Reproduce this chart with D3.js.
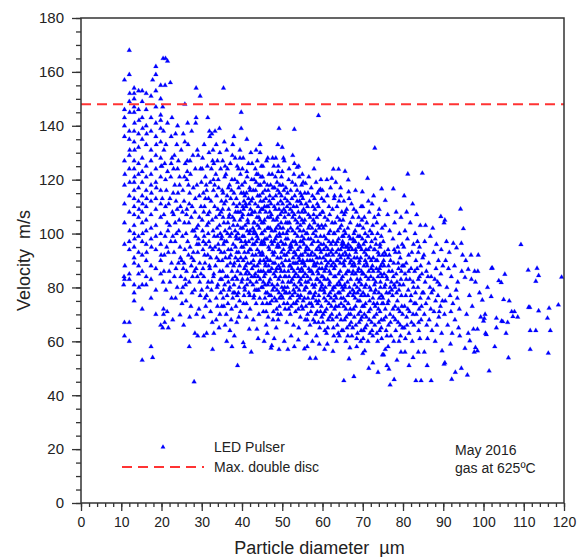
<!DOCTYPE html>
<html><head><meta charset="utf-8">
<script src="https://cdn.jsdelivr.net/npm/d3@7"></script>
<style>body{margin:0;background:#fff}svg{display:block}text{font-family:"Liberation Sans",Arial,sans-serif;fill:#222}</style>
</head><body>
<script>
// ---- Data (diameter µm, velocity m/s) ----
const pts10_15 = [[10.6,81],[10.7,84],[10.8,62],[10.8,67],[10.8,83],[10.8,96],[10.8,104],[10.8,111],[10.8,118],[10.8,127],[10.8,136],[10.8,140],[10.8,143],[10.8,146],[10.8,157],[10.9,88],[10.9,122],
[12.0,168],[12.0,159],[12.0,149],[12.0,138],[12.0,135],[12.0,129],[12.0,124],[12.0,114],[12.0,108],[12.0,97],[12.0,94],[12.0,85],[12.0,83],[12.0,67],[12.0,60],[12.1,101],[12.1,119],[12.1,131],[12.1,145],[12.1,152],
[13.2,154],[13.2,152],[13.2,150],[13.2,147],[13.2,145],[13.2,138],[13.2,134],[13.2,127],[13.2,124],[13.2,119],[13.2,116],[13.2,113],[13.2,110],[13.2,107],[13.2,103],[13.2,100],[13.2,95],[13.2,91],[13.2,89],[13.2,81],[13.2,78],[13.2,75],[13.3,141],[13.3,131],[13.3,121],[13.3,98],
[14.3,153],[14.3,146],[14.3,137],[14.3,132],[14.3,126],[14.3,122],[14.3,117],[14.3,112],[14.3,106],[14.3,99],[14.3,93],[14.3,88],[14.3,85],[14.4,142],[14.4,109],[14.4,80]];
const pts15_20 = [[15.2,153],[15.2,149],[15.2,143],[15.2,135],[15.2,128],[15.2,123],[15.2,119],[15.2,114],[15.2,108],[15.2,104],[15.2,97],[15.2,92],[15.2,86],[15.2,81],[15.2,72],[15.2,53],[15.3,139],[15.3,111],[15.3,100],
[16.2,152],[16.2,146],[16.2,140],[16.2,133],[16.2,125],[16.2,121],[16.2,116],[16.2,110],[16.2,105],[16.2,101],[16.2,96],[16.2,90],[16.2,84],[16.2,81],[16.3,137],[16.3,113],[16.3,93],
[17.4,151],[17.4,143],[17.4,138],[17.4,131],[17.4,127],[17.4,122],[17.4,118],[17.4,112],[17.4,107],[17.4,102],[17.4,98],[17.4,88],[17.4,83],[17.4,76],[17.4,58],[17.5,115],[17.5,95],[17.8,157],[17.8,54],
[18.6,162],[18.6,159],[18.6,153],[18.6,147],[18.6,141],[18.6,136],[18.6,129],[18.6,124],[18.6,119],[18.6,113],[18.6,109],[18.6,103],[18.6,99],[18.6,94],[18.6,87],[18.6,79],[18.6,70],[18.7,133],[18.7,117],
[19.8,155],[19.8,150],[19.8,144],[19.8,142],[19.8,139],[19.8,134],[19.8,128],[19.8,121],[19.8,116],[19.8,111],[19.8,106],[19.8,100],[19.8,96],[19.8,90],[19.8,85],[19.8,66],[19.9,125],[19.9,92]];
const pts20_25 = [[20.4,165],[21.0,165],[21.5,164],[20.9,155],[21.5,141],[20.3,147],[20.5,138],[20.6,131],[20.8,126],[21.0,120],[21.1,79],[20.5,72],[20.5,70],[20.3,65],[21.7,65],[20.8,67],[21.4,71],[22.2,156],[22.5,76],[23.5,76],[22.8,68],[22.4,136],[22.6,128],[23.0,124],[23.3,118],[22.1,113],[22.7,108],[23.4,104],[21.6,101],[22.3,97],[23.1,93],[24.0,140],[23.8,133],[24.2,127],[24.5,121],[24.1,115],[24.7,110],[24.4,105],[23.7,100],[24.6,95],[24.2,89],[24.8,84],[23.9,80],[24.6,69.8],[21.2,116],[21.8,111],[20.6,107],[22.0,103],[21.3,95],[20.7,92],[22.5,89],[21.9,86],[23.2,84],[20.4,82],[22.9,115],[23.6,112],[21.5,123],[22.3,121],[24.9,131],[20.9,99],[23.4,97],[24.3,101],[22.6,143],[21.1,133],[23.2,129],[20.2,113],[24.5,118],[23.0,107],[21.7,93],[24.7,91],[22.1,82],[23.6,87],[20.6,86],[24.9,78],[22.8,99],[21.4,104],[23.9,109],[21.0,110],[20.1,125],[24.0,124],[22.4,126],[23.5,137]];
const pts25_30 = [[25.4,137],[25.8,148],[26.5,141],[27.5,138],[28.6,143],[28.5,141],[28.6,154],[29.6,151],[28.1,45],[26.9,58],[28.3,63],[29.0,62],[25.7,121],[27.9,117],[26.3,109],[29.4,106],[25.2,99],[28.8,96],[26.7,92],[27.4,88],[29.8,85],[25.9,83],[28.2,79],[26.1,75],[29.3,72],[27.0,69],[25.5,66],[28.9,131],[26.4,127],[29.7,124],[27.2,122],[25.3,116],[28.4,113],[26.9,111],[29.1,103],[27.7,101],[25.8,94],[28.0,90],[26.2,86],[29.5,82],[27.6,78],[25.1,74],[28.7,70],[26.6,133],[27.8,129],[29.9,119],[25.6,112],[28.3,108],[26.8,104],[29.2,98],[27.1,95],[25.0,90],[28.6,87],[26.0,81],[29.6,77],[27.3,73],[25.7,104],[28.1,101],[26.5,97],[29.0,93],[27.5,91],[25.4,87],[28.9,84],[26.3,120],[29.4,114],[27.0,115],[25.9,126],[28.4,124],[26.7,118],[29.8,110],[27.4,106],[25.2,108],[28.7,102],[26.1,100],[29.3,96],[27.9,93],[25.6,89],[28.2,86],[26.9,82],[29.5,89],[27.7,84],[25.3,80],[28.8,118],[26.4,123],[27.1,127],[29.1,129],[25.8,134],[27.6,110],[26.2,107],[28.5,99]];
const pts30_35 = [[35.4,154],[31.5,143],[31.9,138],[32.0,136],[32.5,137],[33.3,138],[34.4,139],[32.7,57],[30.5,62],[31.2,63],[33.0,63],[33.6,68],[34.5,70],[35.0,73],
[30.2,128],[31.4,125],[32.8,131],[33.9,127],[34.7,124],[30.9,121],[32.1,119],[33.5,122],[34.2,117],[30.4,115],[31.7,113],[32.9,116],[34.9,112],[30.7,110],[31.9,108],[33.2,110],[34.4,107],[30.1,105],[31.3,103],[32.6,105],[33.8,102],[34.6,100],[30.6,99],[31.8,97],[33.1,99],[34.1,96],[30.3,94],[31.5,92],[32.7,94],[33.7,91],[34.8,93],[30.8,89],[32.0,87],[33.4,88],[34.5,86],[30.5,84],[31.6,82],[32.9,84],[34.0,81],[30.0,79],[31.2,77],[32.4,79],[33.6,76],[34.7,78],[31.0,73],[32.2,71],[33.9,73],[30.4,69],[32.6,67],[34.3,65],[31.1,118],[32.4,124],[33.0,126],[34.5,130],[30.6,133],[31.8,130],[33.6,133],[32.3,112],[33.7,114],[30.9,113],[34.0,109],[31.5,107],[32.8,101],[30.2,101],[34.4,103],[31.0,96],[33.3,95],[32.2,91],[30.7,92],[34.9,98],[31.9,88],[33.0,85],[30.3,87],[34.2,90],[32.5,82],[31.4,80],[33.8,80],[30.8,76],[34.6,83],[32.0,75],[31.6,100],[33.5,106],[30.5,108],[34.1,120],[32.9,120],[31.2,116],[33.2,118],[30.1,124],[32.7,127],[34.8,108],[31.7,104],[33.9,99],[30.4,97],[32.1,95],[34.3,94]];
const pts35_40 = [[38.9,51],[39.8,145],[38.0,136],[39.8,139],[37.0,64],[38.1,62],[36.2,60],[39.5,128],[35.8,66],[37.5,58],
[35.2,127],[36.4,124],[37.6,129],[38.8,125],[39.6,122],[35.7,121],[36.9,118],[38.2,120],[39.2,117],[35.1,116],[36.3,114],[37.4,116],[38.6,113],[39.8,115],[35.6,111],[36.7,109],[37.9,111],[39.0,108],[35.3,106],[36.5,104],[37.7,106],[38.9,103],[39.5,105],[35.8,101],[37.0,99],[38.3,101],[39.3,98],[35.4,96],[36.6,94],[37.8,96],[38.7,93],[39.9,95],[35.9,91],[37.1,89],[38.4,91],[39.4,88],[35.2,86],[36.4,84],[37.5,86],[38.8,83],[39.7,85],[35.7,81],[36.8,79],[38.0,81],[39.1,78],[35.3,76],[36.5,74],[37.7,76],[38.5,73],[39.6,71],[36.1,70],[37.3,68],[38.7,67],[36.0,112],[37.2,113],[38.4,108],[39.4,111],[35.5,104],[36.9,102],[38.1,105],[39.7,102],[35.0,99],[36.2,97],[37.4,100],[38.6,98],[39.2,93],[35.6,93],[36.8,91],[37.9,88],[39.0,90],[35.1,90],[36.3,88],[37.6,83],[38.9,86],[39.9,82],[35.9,84],[37.0,80],[38.2,78],[39.3,80],[35.4,79],[36.7,106],[37.8,103],[38.5,99],[39.8,97],[35.3,115],[36.6,117],[37.5,120],[38.9,119],[39.1,124],[35.8,125],[36.2,131],[37.7,133],[38.3,128],[39.5,131],[35.6,134],[37.1,126],[36.0,122],[38.0,115],[39.6,108],[35.2,109],[36.9,107],[38.7,110],[37.3,94],[38.4,95],[39.0,100],[35.7,97],[36.4,100],[37.2,92],[38.1,89],[39.7,91],[35.0,83],[36.6,82],[37.8,78],[38.8,77],[39.4,75],[35.5,73],[36.3,77],[37.4,72],[39.2,69],[38.3,84]];
const pts40_45 = [[41.2,135],[40.3,59.5],[40.6,58],[41.8,64.5],[43.7,64.5],[44.5,133],[43.5,131],[44.5,130],[42.3,56],[44.0,61],
[40.1,124],[41.3,121],[42.5,126],[43.6,122],[44.8,125],[40.7,119],[41.9,117],[43.0,120],[44.2,118],[40.4,115],[41.6,113],[42.8,116],[43.9,114],[44.6,112],[40.9,111],[42.1,109],[43.3,111],[44.4,108],[40.2,107],[41.4,105],[42.6,108],[43.7,106],[44.9,104],[40.8,103],[42.0,101],[43.1,104],[44.3,102],[40.5,99],[41.7,97],[42.9,100],[44.0,98],[44.7,96],[40.3,95],[41.5,93],[42.7,96],[43.8,94],[40.9,91],[42.2,89],[43.4,92],[44.5,90],[40.6,87],[41.8,85],[43.0,88],[44.1,86],[40.1,83],[41.2,81],[42.4,84],[43.6,82],[44.8,80],[40.7,79],[41.9,77],[43.2,79],[44.4,76],[40.4,74],[42.0,72],[43.5,74],[41.1,69],[42.8,68],[44.2,70],[40.0,118],[41.0,110],[42.3,112],[43.4,116],[44.6,118],[40.5,112],[41.6,107],[42.9,104],[44.0,110],[40.2,102],[41.3,101],[42.5,98],[43.7,99],[44.9,100],[40.8,97],[41.9,94],[43.1,96],[44.3,93],[40.3,90],[41.4,89],[42.6,92],[43.8,88],[44.7,86],[40.9,85],[42.1,82],[43.3,85],[44.5,83],[40.6,80],[41.7,78],[43.0,77],[44.1,79],[41.1,74],[42.9,76],[40.0,106],[41.5,104],[42.7,102],[43.9,103],[44.2,106],[40.4,109],[41.8,111],[43.2,108],[44.8,109],[40.7,114],[42.0,116],[43.5,119],[44.4,114],[41.2,123],[42.4,120],[43.8,127],[40.3,128],[41.6,126],[42.2,130],[44.0,122],[40.6,93],[41.0,96],[42.8,90],[43.6,97],[44.6,92],[40.1,99],[41.3,86],[42.5,87],[43.4,100],[44.9,97],[40.9,88],[42.2,94],[43.1,84],[44.3,89],[41.4,83],[42.7,81],[44.0,84],[40.5,77],[43.7,79],[42.3,107],[41.8,100],[43.0,101],[44.5,105],[40.2,110],[41.1,115],[42.6,113],[43.3,124],[44.7,121]];
const pts45_50 = [[48.9,133],[49.2,139],[46.4,128],[48.4,128],[49.0,125],[47.4,58.4],[47.2,57.5],[49.2,57],[45.5,60],[48.0,61],[46.3,63],
[45.1,121],[46.3,118],[47.5,122],[48.7,119],[49.8,121],[45.7,116],[46.9,114],[48.1,117],[49.3,115],[45.3,112],[46.5,110],[47.7,113],[48.9,111],[45.9,108],[47.1,106],[48.3,109],[49.5,107],[45.4,104],[46.6,102],[47.8,105],[49.0,103],[45.0,100],[46.2,98],[47.4,101],[48.6,99],[49.7,97],[45.6,96],[46.8,94],[48.0,97],[49.2,95],[45.2,92],[46.4,90],[47.6,93],[48.8,91],[49.9,89],[45.8,88],[47.0,86],[48.2,89],[49.4,87],[45.5,84],[46.7,82],[47.9,85],[49.1,83],[45.1,80],[46.3,78],[47.5,81],[48.7,79],[49.8,77],[45.7,76],[46.9,74],[48.1,76],[49.3,73],[45.3,71],[46.5,69],[47.8,71],[49.0,68],[46.0,66],[48.5,65],[45.9,113],[47.2,111],[48.4,114],[49.6,112],[45.2,109],[46.4,106],[47.3,97],[48.5,102],[49.7,104],[45.6,101],[46.9,99],[48.1,93],[49.3,100],[45.4,97],[46.6,95],[47.7,89],[48.9,96],[45.0,93],[46.1,91],[47.4,87],[48.6,87],[49.8,93],[45.8,89],[47.0,83],[48.3,84],[49.5,84],[45.3,86],[46.5,86],[47.6,79],[48.8,81],[49.9,80],[45.7,81],[46.8,77],[48.0,80],[49.2,78],[45.1,74],[46.2,74],[47.4,75],[48.6,72],[49.6,70],[45.9,78],[47.1,118],[48.3,121],[49.4,118],[45.5,119],[46.7,122],[47.9,125],[49.0,123],[45.2,125],[46.1,127],[47.6,128],[48.8,106],[49.9,108],[45.6,105],[46.9,108],[48.2,101],[49.4,99],[45.0,96],[46.3,102],[47.5,96],[48.7,95],[49.6,91],[45.4,90],[46.6,88],[47.8,92],[49.1,88],[45.8,85],[47.0,90],[48.4,86],[49.7,86],[45.3,82],[46.4,81],[47.2,77],[48.5,75],[49.3,76],[46.0,71],[47.7,68],[48.9,70],[45.6,110],[46.8,112],[48.0,110],[49.2,109],[45.1,115],[46.5,116],[47.7,117],[48.9,116],[49.8,114],[46.2,110],[47.3,107],[48.6,105],[49.5,102],[45.7,98],[47.0,102],[48.3,98]];
const pts50_55 = [[53.0,138.7],[50.0,132],[50.3,128],[53.7,124.6],[51.4,57],[53.0,58],[55.5,57.2],[50.5,60],[52.2,62],[54.0,60.5],
[50.1,118],[51.3,115],[52.5,119],[53.7,116],[54.8,118],[50.7,113],[51.9,111],[53.1,114],[54.3,112],[50.4,109],[51.6,107],[52.8,110],[54.0,108],[54.9,105],[50.9,104],[52.1,102],[53.3,105],[54.5,103],[50.2,100],[51.4,98],[52.6,101],[53.8,99],[50.8,96],[52.0,94],[53.2,97],[54.4,95],[50.5,92],[51.7,90],[52.9,93],[54.1,91],[54.9,89],[50.3,88],[51.5,86],[52.7,89],[53.9,87],[50.9,84],[52.2,82],[53.4,85],[54.6,83],[50.6,80],[51.8,78],[53.0,81],[54.2,79],[50.1,76],[51.3,74],[52.5,77],[53.7,75],[54.8,73],[50.7,72],[52.0,70],[53.3,71],[54.5,69],[51.1,67],[52.8,66],[54.1,65],[50.4,116],[51.6,120],[52.9,122],[54.2,121],[50.0,123],[51.2,110],[52.4,113],[53.6,110],[54.7,111],[50.6,106],[51.8,104],[53.0,107],[54.3,106],[50.2,102],[51.4,101],[52.6,97],[53.8,102],[54.9,99],[50.9,98],[52.1,96],[53.4,92],[54.5,97],[50.3,94],[51.5,93],[52.7,91],[53.9,94],[50.8,90],[52.0,88],[53.2,89],[54.4,86],[50.5,86],[51.7,84],[52.9,86],[54.0,84],[50.1,82],[51.3,80],[52.5,83],[53.6,80],[54.7,81],[50.7,78],[51.9,76],[53.1,78],[54.3,76],[50.4,74],[51.6,72],[52.8,74],[54.0,72],[51.0,92],[52.3,95],[53.5,96],[54.6,92],[50.2,96],[51.4,104],[52.6,106],[53.8,104],[54.9,108],[50.8,108],[52.0,109],[53.2,100],[54.4,101],[51.1,100],[52.4,87],[53.7,89],[54.8,87],[50.6,84],[51.8,88],[53.0,84],[54.2,82],[50.3,79],[51.5,82],[52.8,79],[53.9,77],[51.0,78],[52.2,73],[53.4,74],[54.6,77],[50.9,117],[52.1,116],[53.3,118],[54.5,115],[51.7,124],[53.0,126],[50.5,127],[52.6,129],[54.1,125],[51.3,112],[52.5,108],[53.7,112],[54.8,114],[50.1,111],[51.9,95],[53.1,93],[54.3,90]];
const pts55_60 = [[59.0,143.8],[59.0,127.6],[55.8,118.6],[59.5,116.4],[56.9,53.7],[58.3,53.7],[56.2,58],[57.5,60],[59.2,59],
[55.1,113],[56.3,110],[57.5,114],[58.7,111],[59.8,113],[55.7,108],[56.9,106],[58.1,109],[59.3,107],[55.3,104],[56.5,102],[57.7,105],[58.9,103],[55.9,100],[57.1,98],[58.3,101],[59.5,99],[55.4,96],[56.6,94],[57.8,97],[59.0,95],[55.0,92],[56.2,90],[57.4,93],[58.6,91],[59.7,89],[55.6,88],[56.8,86],[58.0,89],[59.2,87],[55.2,84],[56.4,82],[57.6,85],[58.8,83],[59.9,81],[55.8,80],[57.0,78],[58.2,81],[59.4,79],[55.5,76],[56.7,74],[57.9,77],[59.1,75],[55.1,72],[56.3,70],[57.5,73],[58.7,71],[59.8,69],[55.7,68],[56.9,66],[58.1,67],[59.3,65],[56.0,63],[58.5,62],[55.9,111],[57.2,117],[58.4,119],[59.6,120],[55.2,119],[56.4,115],[57.6,110],[58.8,115],[59.9,108],[55.6,105],[56.8,103],[58.0,104],[59.2,102],[55.3,101],[56.5,98],[57.7,100],[58.9,97],[55.0,97],[56.1,95],[57.3,96],[58.5,94],[59.6,93],[55.7,93],[56.9,90],[58.1,92],[59.3,91],[55.4,89],[56.6,87],[57.8,88],[59.0,85],[55.1,86],[56.3,84],[57.5,81],[58.7,86],[59.8,84],[55.8,82],[57.0,83],[58.2,78],[59.4,82],[55.5,79],[56.7,78],[57.9,80],[59.1,77],[55.2,75],[56.4,76],[57.6,76],[58.8,74],[59.7,73],[55.9,73],[57.1,71],[58.3,70],[59.5,71],[56.2,68],[57.7,68],[59.0,67],[55.3,109],[56.5,107],[57.8,107],[59.0,110],[55.6,115],[56.8,112],[58.0,113],[59.2,116],[55.0,122],[56.6,121],[57.9,124],[58.6,106],[59.8,103],[55.4,98],[56.2,100],[57.4,102],[58.4,99],[59.6,96],[55.9,94],[57.1,92],[58.3,88],[59.4,94],[55.1,90],[56.4,92],[57.5,90],[58.7,89],[59.9,87],[55.7,85],[57.3,86],[58.5,83],[59.7,80],[56.0,80],[57.2,74],[58.4,75]];
const pts60_65 = [[62.7,123.9],[64.0,123.9],[62.3,120.5],[63.0,114],[64.5,114],[62.6,56.3],[60.5,57],[61.2,59],[63.5,60],[64.2,62],
[60.1,108],[61.3,105],[62.5,109],[63.7,106],[64.8,108],[60.7,103],[61.9,101],[63.1,104],[64.3,102],[60.4,99],[61.6,97],[62.8,100],[64.0,98],[64.9,95],[60.9,95],[62.1,93],[63.3,96],[64.5,94],[60.2,91],[61.4,89],[62.6,92],[63.8,90],[60.8,87],[62.0,85],[63.2,88],[64.4,86],[60.5,83],[61.7,81],[62.9,84],[64.1,82],[64.9,80],[60.3,79],[61.5,77],[62.7,80],[63.9,78],[60.9,75],[62.2,73],[63.4,76],[64.6,74],[60.6,71],[61.8,69],[63.0,72],[64.2,70],[60.1,67],[61.3,65],[62.5,68],[63.7,66],[64.8,64],[61.0,63],[62.8,62],[60.4,112],[61.6,110],[62.9,113],[64.1,112],[60.0,116],[61.2,114],[62.4,104],[63.6,110],[64.7,103],[60.6,106],[61.8,107],[63.0,100],[64.3,105],[60.2,102],[61.4,94],[62.6,97],[63.8,101],[64.9,99],[60.9,98],[62.1,96],[63.4,93],[64.5,91],[60.3,94],[61.5,92],[62.7,89],[63.9,94],[60.8,90],[62.0,90],[63.2,84],[64.4,89],[60.5,86],[61.7,86],[62.9,87],[64.0,85],[60.1,84],[61.3,83],[62.5,79],[63.6,81],[64.7,83],[60.7,80],[61.9,78],[63.1,77],[64.3,78],[60.4,76],[61.6,74],[62.8,75],[64.0,73],[61.0,72],[62.3,70],[63.5,69],[64.6,68],[60.2,70],[61.4,68],[62.7,65],[63.9,63],[60.6,64],[62.0,117],[63.3,119],[64.5,117],[61.1,120],[60.3,96],[61.5,100],[62.4,94],[63.7,97],[64.8,96],[60.9,92],[62.2,88],[63.5,90],[64.2,92],[61.0,88],[61.8,82],[63.0,80],[64.4,81],[60.5,78],[62.1,76],[63.3,73],[64.6,76]];
const pts65_70 = [[65.6,123.1],[66.4,119.9],[66.5,115.5],[68.2,116],[69.9,115.5],[65.3,45.4],[67.8,46.9],[66.6,53.5],[66.8,57.6],[68.5,58],[69.5,60],[65.8,60],
[65.1,105],[66.3,102],[67.5,106],[68.7,103],[69.8,105],[65.7,100],[66.9,98],[68.1,101],[69.3,99],[65.3,96],[66.5,94],[67.7,97],[68.9,95],[65.9,92],[67.1,90],[68.3,93],[69.5,91],[65.4,88],[66.6,86],[67.8,89],[69.0,87],[65.0,84],[66.2,82],[67.4,85],[68.6,83],[69.7,81],[65.6,80],[66.8,78],[68.0,81],[69.2,79],[65.2,76],[66.4,74],[67.6,77],[68.8,75],[69.9,73],[65.8,72],[67.0,70],[68.2,73],[69.4,71],[65.5,68],[66.7,66],[67.9,69],[69.1,67],[65.1,64],[66.3,62],[67.5,65],[68.7,63],[69.6,64],[66.0,109],[67.2,111],[68.4,108],[69.6,110],[65.3,112],[65.7,108],[66.9,104],[68.1,97],[69.3,103],[65.4,101],[66.6,99],[67.8,100],[69.0,96],[65.0,97],[66.2,95],[67.4,94],[68.6,91],[69.7,94],[65.6,93],[66.8,89],[68.0,88],[69.2,90],[65.2,89],[66.4,91],[67.6,86],[68.8,86],[69.9,85],[65.8,85],[67.0,83],[68.2,85],[69.4,83],[65.5,81],[66.7,80],[67.9,78],[69.1,82],[65.1,79],[66.3,77],[67.5,79],[68.7,78],[69.6,77],[65.7,75],[66.9,72],[68.1,76],[69.3,75],[65.3,73],[66.5,70],[67.7,72],[68.9,70],[69.8,69],[65.9,69],[67.1,67],[68.3,66],[69.5,68],[66.1,65],[67.3,62],[68.5,61],[65.4,107],[66.6,113],[67.8,109],[69.0,106],[65.2,99],[66.4,96],[67.6,98],[68.8,99],[69.9,98],[65.8,95],[67.0,95],[68.2,94],[69.4,95],[65.5,90],[66.7,92],[67.9,91],[69.1,89],[66.2,86],[67.4,88],[68.6,80],[69.7,86],[65.0,92]];
const pts70_75 = [[73.0,131.7],[71.2,120.5],[72.3,111],[74.7,116.6],[70.0,55.5],[70.5,56.5],[72.5,52],[74.9,55],[71.5,50],[73.8,48.5],
[70.1,102],[71.3,99],[72.5,103],[73.7,100],[74.8,102],[70.7,97],[71.9,95],[73.1,98],[74.3,96],[70.4,93],[71.6,91],[72.8,94],[74.0,92],[74.9,89],[70.9,89],[72.1,87],[73.3,90],[74.5,88],[70.2,85],[71.4,83],[72.6,86],[73.8,84],[70.8,81],[72.0,79],[73.2,82],[74.4,80],[70.5,77],[71.7,75],[72.9,78],[74.1,76],[74.8,74],[70.3,73],[71.5,71],[72.7,74],[73.9,72],[70.9,69],[72.2,67],[73.4,70],[74.6,68],[70.6,65],[71.8,63],[73.0,66],[74.2,64],[70.1,61],[71.3,60],[72.5,62],[73.7,60],[74.7,61],[70.4,106],[71.6,108],[72.9,106],[74.1,109],[70.0,110],[71.0,104],[72.3,100],[73.5,104],[74.6,99],[70.6,100],[71.8,101],[73.0,94],[74.3,95],[70.2,96],[71.4,94],[72.6,91],[73.8,93],[74.9,92],[70.9,92],[72.1,90],[73.4,87],[74.5,85],[70.3,88],[71.5,86],[72.7,83],[73.9,86],[70.8,84],[72.0,84],[73.2,79],[74.4,82],[70.5,80],[71.7,80],[72.9,81],[74.0,78],[70.1,78],[71.3,77],[72.5,76],[73.6,74],[74.7,77],[70.7,74],[71.9,72],[73.1,73],[74.3,71],[70.4,70],[71.6,68],[72.8,69],[74.0,67],[71.0,66],[72.3,64],[73.5,63],[74.6,65],[70.2,64],[71.4,112],[72.7,114],[73.9,107],[70.8,94],[72.2,97],[73.3,96],[74.8,84],[70.6,90],[71.1,88],[72.4,88],[73.6,90],[74.2,87]];
const pts75_80 = [[77.6,116.6],[75.6,112.3],[76.8,43.8],[77.8,45.8],[76.5,49.7],[76.0,51],[75.2,55],[75.6,57],[76.3,58],[79.5,56],[78.5,53],
[75.1,97],[76.3,94],[77.5,98],[78.7,95],[79.8,96],[75.7,92],[76.9,90],[78.1,93],[79.3,91],[75.3,88],[76.5,86],[77.7,89],[78.9,87],[75.9,84],[77.1,82],[78.3,85],[79.5,83],[75.4,80],[76.6,78],[77.8,81],[79.0,79],[75.0,76],[76.2,74],[77.4,77],[78.6,75],[79.7,73],[75.6,72],[76.8,70],[78.0,73],[79.2,71],[75.2,68],[76.4,66],[77.6,69],[78.8,67],[79.9,65],[75.8,64],[77.0,62],[78.2,64],[79.4,62],[75.5,103],[76.7,101],[77.9,104],[79.1,100],[75.3,85],[76.1,83],[77.3,86],[78.5,82],[79.6,86],[75.9,78],[77.2,79],[78.4,78],[79.6,77],[75.1,74],[76.4,75],[77.5,72],[78.8,72],[79.9,70],[75.7,69],[76.9,67],[78.1,68],[79.3,66],[76.0,62],[77.7,60],[79.0,60],[75.4,93],[76.6,92],[77.8,94],[79.0,93],[75.2,90],[76.4,88],[77.6,84],[78.8,89],[79.8,88],[75.6,81],[76.8,80],[78.0,80],[79.2,81],[76.2,107],[78.3,108],[79.5,106]];
const pts80_85 = [[81.2,122.1],[84.8,122.4],[83.2,45.4],[84.5,45.4],[83.8,56],[85.3,56],[81.5,51],[82.5,54],[80.5,56],
[80.2,95],[81.4,92],[82.6,96],[83.8,93],[84.9,91],[80.8,89],[82.0,87],[83.2,90],[84.4,88],[80.5,85],[81.7,83],[82.9,86],[84.1,84],[80.1,81],[81.3,79],[82.5,82],[83.7,80],[84.8,78],[80.7,77],[81.9,75],[83.1,78],[84.3,76],[80.4,73],[81.6,71],[82.8,74],[84.0,72],[80.9,69],[82.1,67],[83.3,70],[84.5,68],[80.3,65],[81.5,63],[82.7,66],[83.9,64],[80.6,61],[82.3,60],[84.2,61],[80.5,101],[81.8,104],[83.0,100],[84.3,103],[80.9,108],[82.4,111],[83.6,97],[81.1,98],[82.2,93],[83.5,87],[84.7,85],[80.2,88],[81.4,86],[82.6,80],[83.8,83],[80.8,83],[82.0,77],[83.2,74],[84.6,73],[81.2,72],[82.5,70],[83.9,67],[81.0,66],[84.1,95],[83.4,107],[80.3,114]];
const pts85_90 = [[89.4,106.3],[87.0,45.4],[89.7,56.5],[86.0,51],
[85.2,92],[86.4,89],[87.6,93],[88.8,90],[89.9,88],[85.8,86],[87.0,84],[88.2,87],[89.4,85],[85.5,82],[86.7,80],[87.9,83],[89.1,81],[85.1,78],[86.3,76],[87.5,79],[88.7,77],[89.8,75],[85.7,74],[86.9,72],[88.1,75],[89.3,73],[85.3,70],[86.5,68],[87.7,71],[88.9,69],[85.9,66],[87.2,64],[88.4,66],[89.6,63],[86.1,61],[88.0,60],[85.4,97],[86.8,99],[88.3,96],[89.5,94],[85.6,103],[87.4,102],[86.2,84],[88.6,82],[87.1,78],[89.0,71]];
const pts90_95 = [[90.2,104],[90.4,105],[94.3,109.1],[92.5,96.4],[94.5,96.4],[93.3,94.7],[94.8,92],[90.2,51.5],[90.4,52],[91.8,59],[92.1,45.9],[93.0,48.5],[94.5,50],[94.1,62],[90.6,90],[91.3,87],[92.0,84],[92.8,88],[93.6,82],[90.9,80],[91.7,77],[92.4,74],[93.2,79],[94.0,72],[90.3,70],[91.1,66],[92.9,68],[93.8,65],[94.6,86],[91.5,93],[90.8,97],[92.2,63],[93.5,76],[90.5,75],[91.9,71]];
const pts95_100 = [[95.0,101.8],[96.9,92],[98.7,92],[96.2,86.7],[97.8,86],[98.6,86],[95.4,83.7],[97.0,83],[98.0,82],[99.7,75.3],[98.5,64.5],[97.5,64.5],[96.2,63],[96.6,60.2],[95.4,57.4],[97.7,56],[98.0,57.7],[98.5,56.5],[96.0,47.5],[95.8,70],[97.2,73],[99.0,78],[96.5,77],[99.3,69],[95.6,90]];
const pts100_110 = [[100.4,70],[100.0,67.5],[100.2,68.5],[103.2,68.6],[104.5,67.5],[104.8,67.3],[106.0,67],[107.0,71],[108.5,69],[107.7,71],[107.3,69.2],[105.0,75.5],[106.4,75],[101.9,76.6],[103.8,82.5],[104.4,81.8],[102.0,87.1],[102.2,87.2],[105.3,84.9],[109.3,95.9],[105.6,63],[103.2,65],[100.5,63],[100.7,62.5],[106.2,53.9],[101.4,49],[102.8,58],[101.0,80]];
const pts110_120 = [[111.1,86.4],[113.3,87.1],[113.7,84.4],[113.0,82.3],[119.4,83.8],[111.2,72.6],[111.5,72.6],[113.7,71.3],[116.3,72.3],[118.6,73.5],[115.9,68.6],[111.6,64],[113.0,64],[116.6,64],[111.6,57],[116.1,55.6]];

const maxDoubleDisc = 148;
const xTicks = [0,10,20,30,40,50,60,70,80,90,100,110,120];
const yTicks = [0,20,40,60,80,100,120,140,160,180];
const legendLabels = ["LED Pulser", "Max. double disc"];
const noteLines = ["May 2016", "gas at 625ºC"];

const ledPulser = [].concat(pts10_15, pts15_20, pts20_25, pts25_30, pts30_35, pts35_40, pts40_45, pts45_50,
  pts50_55, pts55_60, pts60_65, pts65_70, pts70_75, pts75_80, pts80_85, pts85_90, pts90_95, pts95_100, pts100_110, pts110_120);

// ---- Drawing ----
const W = 584, H = 557;
const L = 81, R = 564, T = 18, B = 503;
const FONT = '"Liberation Sans",Arial,sans-serif';
const svg = d3.select("body").append("svg").attr("width", W).attr("height", H);
const x = d3.scaleLinear().domain([0,120]).range([L,R]);
const y = d3.scaleLinear().domain([0,180]).range([B,T]);

const tri = d3.symbol().type(d3.symbolTriangle).size(10);
svg.append("g").selectAll("path").data(ledPulser).join("path")
  .attr("d", tri).attr("transform", d => `translate(${x(d[0])},${y(d[1])})`)
  .attr("fill", "#0000ff").attr("stroke", "#0000ff").attr("stroke-opacity", 0.25).attr("stroke-width", 0.8);

// dashed max line
svg.append("line").attr("x1", x(0)).attr("x2", x(120)).attr("y1", y(maxDoubleDisc)).attr("y2", y(maxDoubleDisc))
  .attr("stroke", "#ff3333").attr("stroke-width", 2).attr("stroke-dasharray", "10,6");

// frame
svg.append("rect").attr("x", L).attr("y", T).attr("width", R-L).attr("height", B-T)
  .attr("fill", "none").attr("stroke", "#333").attr("stroke-width", 1.5);

// axes
function styleAxis(fs){ return g => { g.select(".domain").remove(); g.selectAll("line").attr("stroke","#333").attr("stroke-width",1.3); g.selectAll("text").attr("font-size",fs).attr("fill","#222").attr("font-family",FONT); }; }
svg.append("g").attr("transform", `translate(0,${B})`)
  .call(d3.axisBottom(x).tickValues(d3.range(0,121,2)).tickSize(4).tickFormat(""))
  .call(styleAxis("14px"));
svg.append("g").attr("transform", `translate(0,${B})`)
  .call(d3.axisBottom(x).tickValues(xTicks).tickSize(8).tickPadding(6).tickFormat(d3.format("d")))
  .call(styleAxis("14px"));
svg.append("g").attr("transform", `translate(${L},0)`)
  .call(d3.axisLeft(y).tickValues(d3.range(0,181,5)).tickSize(5).tickFormat(""))
  .call(styleAxis("15px"));
svg.append("g").attr("transform", `translate(${L},0)`)
  .call(d3.axisLeft(y).tickValues(yTicks).tickSize(9).tickPadding(8).tickFormat(d3.format("d")))
  .call(styleAxis("15px"));

// axis titles
svg.append("text").attr("x", (L+R)/2 - 3).attr("y", 554).attr("text-anchor","middle")
  .attr("font-size","18px").style("white-space","pre").text("Particle diameter  µm");
svg.append("text").attr("transform", `translate(30,${(T+B)/2}) rotate(-90)`).attr("text-anchor","middle")
  .attr("font-size","18px").style("white-space","pre").text("Velocity  m/s");

// legend
svg.append("path").attr("d", tri).attr("transform","translate(163,447)").attr("fill","#0000ff");
svg.append("line").attr("x1",122).attr("x2",204).attr("y1",467).attr("y2",467)
  .attr("stroke","#ff3333").attr("stroke-width",2).attr("stroke-dasharray","10,6");
legendLabels.forEach((t,i) => svg.append("text").attr("x",214).attr("y",451.5 + i*20.5).attr("font-size","14px").text(t));
noteLines.forEach((t,i) => svg.append("text").attr("x",455).attr("y",455 + i*18).attr("font-size","14px").text(t));
</script>
</body></html>
